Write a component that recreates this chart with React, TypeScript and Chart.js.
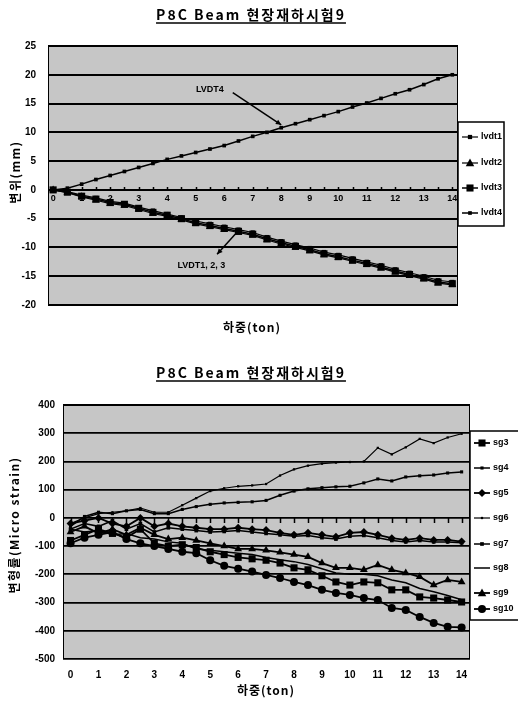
import React, { useEffect, useRef } from 'react';
import { Chart, registerables } from 'chart.js';
Chart.register(...registerables);

const FONT = "'Liberation Sans', 'Noto Sans CJK KR', sans-serif";
const KFONT = "'Noto Sans CJK KR', 'Liberation Sans', sans-serif";

// ---------- data ----------
const loads = [0, 0.5, 1, 1.5, 2, 2.5, 3, 3.5, 4, 4.5, 5, 5.5, 6, 6.5, 7, 7.5, 8, 8.5, 9, 9.5, 10, 10.5, 11, 11.5, 12, 12.5, 13, 13.5, 14];
const loadLabels = [0, 1, 2, 3, 4, 5, 6, 7, 8, 9, 10, 11, 12, 13, 14];

const dispTicks = [-20, -15, -10, -5, 0, 5, 10, 15, 20, 25];
const lvdt1 = [0, -0.3, -0.9, -1.4, -2.0, -2.3, -3.0, -3.6, -4.2, -4.8, -5.4, -5.9, -6.4, -6.9, -7.4, -8.2, -8.9, -9.5, -10.1, -10.8, -11.3, -11.9, -12.5, -13.1, -13.8, -14.4, -15.0, -15.7, -16.0];
const lvdt2 = [0, -0.5, -1.2, -1.8, -2.4, -2.7, -3.4, -4.1, -4.6, -5.2, -5.9, -6.4, -6.9, -7.4, -7.9, -8.7, -9.4, -10.0, -10.6, -11.3, -11.8, -12.4, -13.0, -13.6, -14.3, -14.9, -15.5, -16.2, -16.5];
const lvdt3 = [0, -0.4, -1.1, -1.6, -2.2, -2.5, -3.2, -3.9, -4.4, -5.0, -5.7, -6.2, -6.7, -7.2, -7.7, -8.5, -9.2, -9.8, -10.4, -11.1, -11.6, -12.2, -12.8, -13.4, -14.1, -14.7, -15.3, -16.0, -16.3];
const lvdt4 = [0, 0.3, 1.0, 1.8, 2.5, 3.2, 3.9, 4.6, 5.3, 5.9, 6.5, 7.1, 7.7, 8.5, 9.3, 10.0, 10.8, 11.5, 12.2, 12.9, 13.6, 14.4, 15.1, 15.9, 16.7, 17.4, 18.3, 19.3, 20.0];

const strainTicks = [-500, -400, -300, -200, -100, 0, 100, 200, 300, 400];
const sg3 = [-80, -60, -40, -55, -70, -40, -90, -100, -95, -105, -120, -130, -140, -145, -150, -160, -177, -184, -205, -227, -238, -227, -230, -255, -255, -280, -284, -291, -298];
const sg4 = [-30, 5, 20, 15, 25, 30, 15, 15, 30, 40, 48, 53, 55, 57, 62, 80, 95, 103, 107, 110, 112, 124, 138, 131, 145, 149, 152, 159, 163];
const sg5 = [-20, -10, 0, -20, -30, 0, -30, -20, -30, -35, -40, -40, -35, -40, -43, -53, -60, -53, -60, -67, -53, -50, -60, -72, -78, -72, -78, -78, -84];
const sg6 = [-20, 0, 15, 20, 25, 35, 20, 20, 45, 70, 95, 105, 112, 115, 120, 150, 172, 185, 192, 196, 198, 200, 248, 225, 250, 280, 265, 285, 298];
const sg7 = [-40, -20, -30, -10, -40, -20, -50, -35, -40, -45, -50, -48, -45, -50, -55, -60, -65, -62, -70, -75, -65, -62, -70, -80, -85, -80, -85, -85, -88];
const sg8 = [-40, -50, -45, -60, -55, -70, -75, -85, -90, -110, -115, -120, -125, -130, -140, -148, -155, -165, -180, -195, -200, -200, -205, -220, -230, -250, -262, -275, -290];
const sg9 = [-50, -30, -55, -40, -60, -35, -60, -75, -70, -80, -90, -100, -110, -110, -115, -122, -130, -138, -160, -177, -177, -184, -167, -184, -195, -209, -238, -220, -227];
const sg10 = [-90, -70, -60, -50, -75, -90, -100, -110, -120, -125, -150, -170, -180, -190, -202, -213, -227, -238, -255, -266, -273, -284, -291, -319, -326, -351, -372, -386, -388];

const title = 'P8C Beam 현장재하시험9';

// ---------- helpers ----------
const pts = (vals: number[]) => vals.map((v, i) => ({ x: loads[i], y: v }));

function drawMarker(ctx: CanvasRenderingContext2D, style: string, x: number, y: number, r: number) {
  if (!r) return;
  ctx.beginPath();
  if (style === 'circle') ctx.arc(x, y, r, 0, Math.PI * 2);
  else if (style === 'triangle') {
    ctx.moveTo(x, y - r);
    ctx.lineTo(x + r * 0.95, y + r * 0.7);
    ctx.lineTo(x - r * 0.95, y + r * 0.7);
    ctx.closePath();
  } else if (style === 'rectRot') {
    ctx.moveTo(x, y - r); ctx.lineTo(x + r, y); ctx.lineTo(x, y + r); ctx.lineTo(x - r, y); ctx.closePath();
  } else {
    const s = r * Math.SQRT1_2;
    ctx.rect(x - s, y - s, 2 * s, 2 * s);
  }
  ctx.fill();
}

function text(ctx: any, s: string, x: number, y: number, font: string, opt: { align?: string; rot?: boolean; spacing?: string } = {}) {
  ctx.save();
  ctx.font = font;
  ctx.fillStyle = '#000';
  ctx.textAlign = opt.align || 'center';
  ctx.textBaseline = 'middle';
  if ('letterSpacing' in ctx) ctx.letterSpacing = opt.spacing || '0px';
  ctx.translate(x, y);
  if (opt.rot) ctx.rotate(-Math.PI / 2);
  ctx.fillText(s, 0, 0);
  const w = ctx.measureText(s).width;
  ctx.restore();
  return w;
}

type Note = { text: string; x: number; y: number };
type Arrow = { x0: number; y0: number; x1: number; y1: number };
type Deco = {
  titleY: number;
  xTitle: string; xTitleX: number; xTitleY: number;
  yTitle: string; yTitleX: number; yTitleY: number;
  legend: { x: number; y: number; w: number; h: number; rows: number[]; l0: number; l1: number; tx: number };
  zeroTickDir: number; zeroTickLen: number;
  notes: Note[]; arrows: Arrow[];
};

function decoPlugin(cfg: Deco) {
  return {
    id: 'deco',
    beforeDraw(chart: any) {
      const { ctx, chartArea: a } = chart;
      ctx.save();
      ctx.fillStyle = '#c6c6c6';
      ctx.fillRect(a.left, a.top, a.right - a.left, a.bottom - a.top);
      ctx.restore();
    },
    beforeDatasetsDraw(chart: any) {
      const { ctx } = chart;
      const xs = chart.scales.x, ys = chart.scales.y;
      const y0 = ys.getPixelForValue(0);
      ctx.save();
      ctx.strokeStyle = '#000';
      ctx.lineWidth = 1.5;
      ctx.beginPath();
      loads.forEach((v) => {
        const px = Math.round(xs.getPixelForValue(v)) + 0.5;
        ctx.moveTo(px, y0);
        ctx.lineTo(px, y0 + cfg.zeroTickDir * cfg.zeroTickLen);
      });
      ctx.stroke();
      ctx.restore();
    },
    afterDatasetsDraw(chart: any) {
      const { ctx, chartArea: a } = chart;
      const xs = chart.scales.x, ys = chart.scales.y;
      ctx.save();
      ctx.strokeStyle = '#000';
      ctx.lineWidth = 1;
      ctx.strokeRect(a.left + 0.5, a.top + 0.5, a.right - a.left - 1, a.bottom - a.top - 1);
      cfg.arrows.forEach((ar) => {
        const x0 = xs.getPixelForValue(ar.x0), y0 = ys.getPixelForValue(ar.y0);
        const x1 = xs.getPixelForValue(ar.x1), y1 = ys.getPixelForValue(ar.y1);
        ctx.lineWidth = 1.5;
        ctx.beginPath(); ctx.moveTo(x0, y0); ctx.lineTo(x1, y1); ctx.stroke();
        const ang = Math.atan2(y1 - y0, x1 - x0);
        ctx.beginPath();
        ctx.moveTo(x1, y1);
        ctx.lineTo(x1 - 6 * Math.cos(ang - 0.45), y1 - 6 * Math.sin(ang - 0.45));
        ctx.lineTo(x1 - 6 * Math.cos(ang + 0.45), y1 - 6 * Math.sin(ang + 0.45));
        ctx.closePath();
        ctx.fillStyle = '#000';
        ctx.fill();
      });
      ctx.restore();
      cfg.notes.forEach((n) => {
        text(ctx, n.text, xs.getPixelForValue(n.x), ys.getPixelForValue(n.y), `bold 9px ${FONT}`);
      });
    },
    afterDraw(chart: any) {
      const { ctx } = chart;
      const W = chart.width;
      const cx = W / 2 - 8;
      // title + underline
      const tw = text(ctx, title, cx, cfg.titleY, `bold 14px ${KFONT}`, { spacing: '2px' });
      ctx.save();
      ctx.strokeStyle = '#000';
      ctx.lineWidth = 1.4;
      ctx.beginPath();
      ctx.moveTo(cx - tw / 2, cfg.titleY + 8);
      ctx.lineTo(cx + tw / 2, cfg.titleY + 8);
      ctx.stroke();
      ctx.restore();
      // axis titles
      text(ctx, cfg.xTitle, cfg.xTitleX, cfg.xTitleY, `bold 12px ${KFONT}`, { spacing: '1px' });
      text(ctx, cfg.yTitle, cfg.yTitleX, cfg.yTitleY, `bold 12px ${KFONT}`, { rot: true, spacing: '1.5px' });
      // legend
      const L = cfg.legend;
      ctx.save();
      ctx.fillStyle = '#fff';
      ctx.fillRect(L.x, L.y, L.w, L.h);
      ctx.strokeStyle = '#000';
      ctx.lineWidth = 1.5;
      ctx.strokeRect(L.x, L.y, L.w, L.h);
      chart.data.datasets.forEach((ds: any, i: number) => {
        const y = L.rows[i];
        ctx.strokeStyle = '#000';
        ctx.lineWidth = ds.borderWidth;
        ctx.beginPath(); ctx.moveTo(L.l0, y); ctx.lineTo(L.l1, y); ctx.stroke();
        ctx.fillStyle = '#000';
        drawMarker(ctx, ds.pointStyle, (L.l0 + L.l1) / 2, y, ds.pointRadius);
        text(ctx, ds.label, L.tx, y, `bold 9px ${FONT}`, { align: 'left' });
      });
      ctx.restore();
    },
  };
}

function line(label: string, vals: number[], style: string, r: number, bw: number) {
  return {
    label,
    data: pts(vals),
    borderColor: '#000',
    backgroundColor: '#000',
    pointBackgroundColor: '#000',
    pointBorderColor: '#000',
    borderWidth: bw,
    pointStyle: style,
    pointRadius: r,
    pointBorderWidth: 0,
    tension: 0,
  };
}

const tickFont = { family: FONT, size: 10, weight: 'bold' as const };

function config1(): any {
  return {
    type: 'line',
    data: {
      datasets: [
        line('lvdt1', lvdt1, 'rect', 3, 1.2),
        line('lvdt2', lvdt2, 'triangle', 4.5, 1.2),
        line('lvdt3', lvdt3, 'rect', 5, 1.5),
        line('lvdt4', lvdt4, 'rect', 2.6, 1.5),
      ],
    },
    options: {
      responsive: false,
      animation: false,
      devicePixelRatio: 1,
      layout: { padding: { top: 46, right: 60, bottom: 50, left: 0 } },
      plugins: { legend: { display: false }, title: { display: false }, tooltip: { enabled: false } },
      scales: {
        x: {
          type: 'linear',
          min: -0.18,
          max: 14.2,
          position: { y: 0 },
          afterBuildTicks: (s: any) => { s.ticks = loadLabels.map((v) => ({ value: v })); },
          ticks: { autoSkip: false, maxRotation: 0, padding: 3, color: '#000', font: { ...tickFont, size: 9 } },
          grid: { display: false, drawTicks: false, tickLength: 0 },
          border: { display: false },
        },
        y: {
          min: -20,
          max: 25,
          afterBuildTicks: (s: any) => { s.ticks = dispTicks.map((v) => ({ value: v })); },
          afterFit: (s: any) => { s.width = 48; },
          ticks: { padding: 12, color: '#000', font: tickFont },
          grid: { color: '#000', lineWidth: 2, drawTicks: false },
          border: { display: false },
        },
      },
    },
    plugins: [
      decoPlugin({
        titleY: 15,
        xTitle: '하중(ton)', xTitleX: 252, xTitleY: 327,
        yTitle: '변위(mm)', yTitleX: 15, yTitleY: 172,
        legend: { x: 458, y: 122, w: 46, h: 104, rows: [137, 163, 188, 213], l0: 462, l1: 478, tx: 481 },
        zeroTickDir: -1, zeroTickLen: 3,
        notes: [
          { text: 'LVDT4', x: 5.5, y: 17.4 },
          { text: 'LVDT1, 2, 3', x: 5.2, y: -13.1 },
        ],
        arrows: [
          { x0: 6.3, y0: 16.9, x1: 8.0, y1: 11.3 },
          { x0: 6.4, y0: -7.6, x1: 5.75, y1: -11.2 },
        ],
      }),
    ],
  };
}

function config2(): any {
  return {
    type: 'line',
    data: {
      datasets: [
        line('sg3', sg3, 'rect', 5, 1.8),
        line('sg4', sg4, 'rect', 2.2, 1.5),
        line('sg5', sg5, 'rectRot', 4, 1.8),
        line('sg6', sg6, 'rect', 1.6, 1.2),
        line('sg7', sg7, 'rect', 2.6, 1.5),
        line('sg8', sg8, 'rect', 0, 1.5),
        line('sg9', sg9, 'triangle', 4.5, 1.8),
        line('sg10', sg10, 'circle', 4, 1.8),
      ],
    },
    options: {
      responsive: false,
      animation: false,
      devicePixelRatio: 1,
      layout: { padding: { top: 50, right: 48, bottom: 0, left: 0 } },
      plugins: { legend: { display: false }, title: { display: false }, tooltip: { enabled: false } },
      scales: {
        x: {
          type: 'linear',
          min: -0.27,
          max: 14.3,
          position: 'bottom',
          afterBuildTicks: (s: any) => { s.ticks = loadLabels.map((v) => ({ value: v })); },
          afterFit: (s: any) => { s.height = 50; },
          ticks: { autoSkip: false, maxRotation: 0, padding: 10, color: '#000', font: tickFont },
          grid: { display: false, drawTicks: false, tickLength: 0 },
          border: { display: false },
        },
        y: {
          min: -500,
          max: 400,
          afterBuildTicks: (s: any) => { s.ticks = strainTicks.map((v) => ({ value: v })); },
          afterFit: (s: any) => { s.width = 63; },
          ticks: { padding: 8, color: '#000', font: tickFont },
          grid: { color: '#000', lineWidth: 1.8, drawTicks: false },
          border: { display: false },
        },
      },
    },
    plugins: [
      decoPlugin({
        titleY: 18,
        xTitle: '하중(ton)', xTitleX: 266, xTitleY: 335,
        yTitle: '변형률(Micro strain)', yTitleX: 14, yTitleY: 170,
        legend: { x: 470, y: 76, w: 60, h: 189, rows: [88, 113, 138, 163, 189, 213, 238, 254], l0: 474, l1: 490, tx: 493 },
        zeroTickDir: 1, zeroTickLen: 5,
        notes: [],
        arrows: [],
      }),
    ],
  };
}

export default function App() {
  const c1 = useRef<HTMLCanvasElement>(null);
  const c2 = useRef<HTMLCanvasElement>(null);
  useEffect(() => {
    const ch1 = new Chart(c1.current as HTMLCanvasElement, config1());
    const ch2 = new Chart(c2.current as HTMLCanvasElement, config2());
    return () => {
      ch1.destroy();
      ch2.destroy();
    };
  }, []);
  return (
    <div style={{ position: 'absolute', left: 0, top: 0, width: 518, height: 709, background: '#fff' }}>
      <canvas ref={c1} width={518} height={355} style={{ display: 'block', width: 518, height: 355 }} />
      <canvas ref={c2} width={518} height={354} style={{ display: 'block', width: 518, height: 354 }} />
    </div>
  );
}
